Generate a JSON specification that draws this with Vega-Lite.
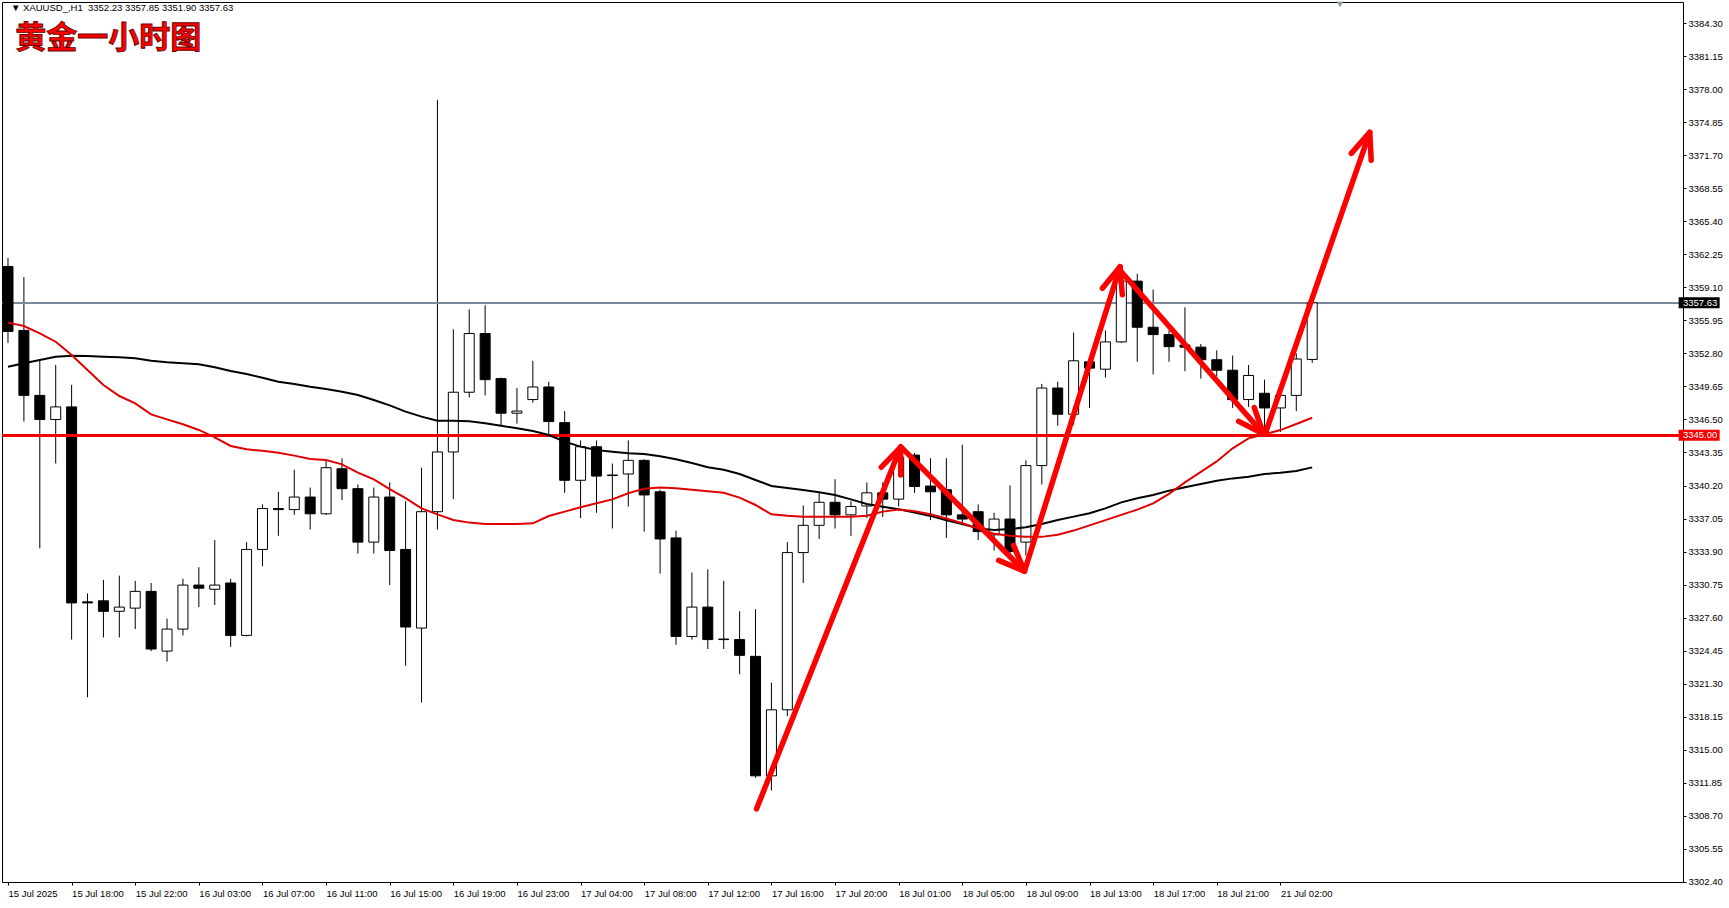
{
  "$schema": "https://vega.github.io/schema/vega-lite/v6.json",
  "width": 1681,
  "height": 880,
  "autosize": {"type": "none"},
  "padding": {"left": 2, "top": 2, "right": 46, "bottom": 26},
  "background": "white",
  "config": {
    "view": {"stroke": "#000000", "strokeWidth": 1},
    "font": "Liberation Sans",
    "axis": {"labelFont": "Liberation Sans", "labelFontSize": 9.5, "labelColor": "#000000", "tickColor": "#000000", "domain": false, "grid": false, "titleOpacity": 0, "labelOverlap": false}
  },
  "datasets": {
    "bars": [
      {"i":0,"t":"15 Jul 14:00","open":3361.1,"high":3361.9,"low":3353.8,"close":3354.9,"ma_red":3355.74,"ma_black":3351.54},
      {"i":1,"t":"15 Jul 15:00","open":3355.0,"high":3360.1,"low":3346.3,"close":3348.8,"ma_red":3355.42,"ma_black":3351.86},
      {"i":2,"t":"15 Jul 16:00","open":3348.8,"high":3352.2,"low":3334.2,"close":3346.5,"ma_red":3354.72,"ma_black":3352.18},
      {"i":3,"t":"15 Jul 17:00","open":3346.5,"high":3351.7,"low":3342.3,"close":3347.7,"ma_red":3353.92,"ma_black":3352.49},
      {"i":4,"t":"15 Jul 18:00","open":3347.7,"high":3349.8,"low":3325.5,"close":3329.0,"ma_red":3352.65,"ma_black":3352.59},
      {"i":5,"t":"15 Jul 19:00","open":3329.1,"high":3329.9,"low":3320.0,"close":3329.0,"ma_red":3351.22,"ma_black":3352.56},
      {"i":6,"t":"15 Jul 20:00","open":3329.2,"high":3331.2,"low":3325.7,"close":3328.2,"ma_red":3349.79,"ma_black":3352.49},
      {"i":7,"t":"15 Jul 21:00","open":3328.2,"high":3331.6,"low":3325.7,"close":3328.6,"ma_red":3348.74,"ma_black":3352.43},
      {"i":8,"t":"15 Jul 22:00","open":3328.5,"high":3331.1,"low":3326.5,"close":3330.1,"ma_red":3348.04,"ma_black":3352.34},
      {"i":9,"t":"15 Jul 23:00","open":3330.1,"high":3330.9,"low":3324.4,"close":3324.6,"ma_red":3346.99,"ma_black":3352.11},
      {"i":10,"t":"16 Jul 01:00","open":3324.4,"high":3327.5,"low":3323.4,"close":3326.5,"ma_red":3346.51,"ma_black":3351.95},
      {"i":11,"t":"16 Jul 02:00","open":3326.5,"high":3331.3,"low":3325.9,"close":3330.7,"ma_red":3346.04,"ma_black":3351.86},
      {"i":12,"t":"16 Jul 03:00","open":3330.7,"high":3332.4,"low":3328.6,"close":3330.4,"ma_red":3345.5,"ma_black":3351.76},
      {"i":13,"t":"16 Jul 04:00","open":3330.3,"high":3335.0,"low":3328.8,"close":3330.7,"ma_red":3344.8,"ma_black":3351.48},
      {"i":14,"t":"16 Jul 05:00","open":3330.9,"high":3331.3,"low":3324.8,"close":3325.9,"ma_red":3343.97,"ma_black":3351.13},
      {"i":15,"t":"16 Jul 06:00","open":3325.9,"high":3334.8,"low":3325.8,"close":3334.1,"ma_red":3343.65,"ma_black":3350.84},
      {"i":16,"t":"16 Jul 07:00","open":3334.1,"high":3338.4,"low":3332.5,"close":3338.0,"ma_red":3343.52,"ma_black":3350.49},
      {"i":17,"t":"16 Jul 08:00","open":3338.0,"high":3339.6,"low":3335.4,"close":3337.9,"ma_red":3343.33,"ma_black":3350.11},
      {"i":18,"t":"16 Jul 09:00","open":3337.9,"high":3341.7,"low":3337.4,"close":3339.1,"ma_red":3343.05,"ma_black":3349.89},
      {"i":19,"t":"16 Jul 10:00","open":3339.1,"high":3340.0,"low":3336.0,"close":3337.5,"ma_red":3342.73,"ma_black":3349.63},
      {"i":20,"t":"16 Jul 11:00","open":3337.5,"high":3342.6,"low":3337.4,"close":3341.9,"ma_red":3342.63,"ma_black":3349.41},
      {"i":21,"t":"16 Jul 12:00","open":3341.8,"high":3342.8,"low":3338.8,"close":3339.9,"ma_red":3342.22,"ma_black":3349.15},
      {"i":22,"t":"16 Jul 13:00","open":3339.9,"high":3340.3,"low":3333.7,"close":3334.8,"ma_red":3341.43,"ma_black":3348.84},
      {"i":23,"t":"16 Jul 14:00","open":3334.8,"high":3340.0,"low":3333.7,"close":3339.1,"ma_red":3340.79,"ma_black":3348.36},
      {"i":24,"t":"16 Jul 15:00","open":3339.1,"high":3340.5,"low":3330.7,"close":3334.0,"ma_red":3339.85,"ma_black":3347.85},
      {"i":25,"t":"16 Jul 16:00","open":3334.1,"high":3338.7,"low":3323.0,"close":3326.7,"ma_red":3339.0,"ma_black":3347.25},
      {"i":26,"t":"16 Jul 17:00","open":3326.6,"high":3341.9,"low":3319.5,"close":3337.7,"ma_red":3338.02,"ma_black":3346.77},
      {"i":27,"t":"16 Jul 18:00","open":3337.7,"high":3377.0,"low":3336.0,"close":3343.4,"ma_red":3337.45,"ma_black":3346.39},
      {"i":28,"t":"16 Jul 19:00","open":3343.4,"high":3355.1,"low":3338.9,"close":3349.1,"ma_red":3336.91,"ma_black":3346.39},
      {"i":29,"t":"16 Jul 20:00","open":3349.1,"high":3357.0,"low":3348.6,"close":3354.7,"ma_red":3336.66,"ma_black":3346.33},
      {"i":30,"t":"16 Jul 21:00","open":3354.7,"high":3357.4,"low":3348.8,"close":3350.3,"ma_red":3336.53,"ma_black":3346.14},
      {"i":31,"t":"16 Jul 22:00","open":3350.4,"high":3350.5,"low":3345.9,"close":3347.1,"ma_red":3336.53,"ma_black":3345.91},
      {"i":32,"t":"16 Jul 23:00","open":3347.1,"high":3349.5,"low":3346.1,"close":3347.3,"ma_red":3336.53,"ma_black":3345.66},
      {"i":33,"t":"17 Jul 01:00","open":3348.4,"high":3352.1,"low":3348.1,"close":3349.6,"ma_red":3336.59,"ma_black":3345.4},
      {"i":34,"t":"17 Jul 02:00","open":3349.6,"high":3350.1,"low":3345.0,"close":3346.3,"ma_red":3337.29,"ma_black":3345.02},
      {"i":35,"t":"17 Jul 03:00","open":3346.2,"high":3347.3,"low":3339.5,"close":3340.7,"ma_red":3337.71,"ma_black":3344.39},
      {"i":36,"t":"17 Jul 04:00","open":3340.7,"high":3344.5,"low":3337.1,"close":3343.9,"ma_red":3338.12,"ma_black":3343.91},
      {"i":37,"t":"17 Jul 05:00","open":3343.9,"high":3344.5,"low":3337.6,"close":3341.1,"ma_red":3338.5,"ma_black":3343.59},
      {"i":38,"t":"17 Jul 06:00","open":3341.2,"high":3342.3,"low":3336.1,"close":3341.15,"ma_red":3338.88,"ma_black":3343.43},
      {"i":39,"t":"17 Jul 07:00","open":3341.3,"high":3344.5,"low":3338.2,"close":3342.6,"ma_red":3339.46,"ma_black":3343.27},
      {"i":40,"t":"17 Jul 08:00","open":3342.6,"high":3342.7,"low":3335.8,"close":3339.3,"ma_red":3339.9,"ma_black":3343.21},
      {"i":41,"t":"17 Jul 09:00","open":3339.6,"high":3339.8,"low":3331.8,"close":3335.1,"ma_red":3340.0,"ma_black":3343.0},
      {"i":42,"t":"17 Jul 10:00","open":3335.2,"high":3335.9,"low":3325.0,"close":3325.8,"ma_red":3339.93,"ma_black":3342.7},
      {"i":43,"t":"17 Jul 11:00","open":3325.8,"high":3331.9,"low":3325.5,"close":3328.6,"ma_red":3339.8,"ma_black":3342.35},
      {"i":44,"t":"17 Jul 12:00","open":3328.6,"high":3332.2,"low":3324.6,"close":3325.5,"ma_red":3339.65,"ma_black":3341.95},
      {"i":45,"t":"17 Jul 13:00","open":3325.55,"high":3331.1,"low":3324.6,"close":3325.5,"ma_red":3339.5,"ma_black":3341.7},
      {"i":46,"t":"17 Jul 14:00","open":3325.5,"high":3328.2,"low":3322.2,"close":3324.0,"ma_red":3339.05,"ma_black":3341.3},
      {"i":47,"t":"17 Jul 15:00","open":3323.9,"high":3328.4,"low":3312.3,"close":3312.5,"ma_red":3338.34,"ma_black":3340.73},
      {"i":48,"t":"17 Jul 16:00","open":3312.5,"high":3321.4,"low":3311.1,"close":3318.8,"ma_red":3337.45,"ma_black":3340.16},
      {"i":49,"t":"17 Jul 17:00","open":3318.8,"high":3334.8,"low":3318.2,"close":3333.8,"ma_red":3337.32,"ma_black":3339.96},
      {"i":50,"t":"17 Jul 18:00","open":3333.8,"high":3338.3,"low":3330.9,"close":3336.4,"ma_red":3337.23,"ma_black":3339.77},
      {"i":51,"t":"17 Jul 19:00","open":3336.4,"high":3339.6,"low":3335.1,"close":3338.6,"ma_red":3337.23,"ma_black":3339.55},
      {"i":52,"t":"17 Jul 20:00","open":3338.6,"high":3340.8,"low":3336.1,"close":3337.4,"ma_red":3337.23,"ma_black":3339.3},
      {"i":53,"t":"17 Jul 21:00","open":3337.4,"high":3338.7,"low":3335.4,"close":3338.2,"ma_red":3337.23,"ma_black":3338.88},
      {"i":54,"t":"17 Jul 22:00","open":3338.25,"high":3340.5,"low":3337.1,"close":3339.5,"ma_red":3337.32,"ma_black":3338.44},
      {"i":55,"t":"17 Jul 23:00","open":3339.5,"high":3340.5,"low":3337.2,"close":3338.9,"ma_red":3337.71,"ma_black":3338.18},
      {"i":56,"t":"18 Jul 01:00","open":3338.9,"high":3343.4,"low":3338.2,"close":3342.9,"ma_red":3337.9,"ma_black":3337.93},
      {"i":57,"t":"18 Jul 02:00","open":3343.1,"high":3343.3,"low":3339.5,"close":3340.1,"ma_red":3337.75,"ma_black":3337.62},
      {"i":58,"t":"18 Jul 03:00","open":3340.15,"high":3342.8,"low":3336.9,"close":3339.6,"ma_red":3337.45,"ma_black":3337.3},
      {"i":59,"t":"18 Jul 04:00","open":3339.8,"high":3342.8,"low":3335.2,"close":3337.4,"ma_red":3337.05,"ma_black":3336.88},
      {"i":60,"t":"18 Jul 05:00","open":3337.4,"high":3344.1,"low":3336.4,"close":3337.0,"ma_red":3336.6,"ma_black":3336.53},
      {"i":61,"t":"18 Jul 06:00","open":3337.7,"high":3338.4,"low":3335.0,"close":3335.8,"ma_red":3336.1,"ma_black":3336.11},
      {"i":62,"t":"18 Jul 07:00","open":3335.5,"high":3337.6,"low":3334.0,"close":3337.0,"ma_red":3335.6,"ma_black":3335.95},
      {"i":63,"t":"18 Jul 08:00","open":3337.0,"high":3340.2,"low":3333.3,"close":3333.9,"ma_red":3335.4,"ma_black":3336.05},
      {"i":64,"t":"18 Jul 09:00","open":3334.8,"high":3342.6,"low":3333.5,"close":3342.1,"ma_red":3335.3,"ma_black":3336.21},
      {"i":65,"t":"18 Jul 10:00","open":3342.1,"high":3349.9,"low":3340.3,"close":3349.5,"ma_red":3335.3,"ma_black":3336.53},
      {"i":66,"t":"18 Jul 11:00","open":3349.5,"high":3350.1,"low":3345.9,"close":3347.0,"ma_red":3335.5,"ma_black":3336.91},
      {"i":67,"t":"18 Jul 12:00","open":3347.0,"high":3354.8,"low":3346.0,"close":3352.1,"ma_red":3335.9,"ma_black":3337.23},
      {"i":68,"t":"18 Jul 13:00","open":3352.0,"high":3352.4,"low":3347.6,"close":3351.4,"ma_red":3336.4,"ma_black":3337.55},
      {"i":69,"t":"18 Jul 14:00","open":3351.3,"high":3355.0,"low":3350.5,"close":3353.9,"ma_red":3336.9,"ma_black":3338.02},
      {"i":70,"t":"18 Jul 15:00","open":3353.9,"high":3360.0,"low":3353.8,"close":3359.7,"ma_red":3337.4,"ma_black":3338.59},
      {"i":71,"t":"18 Jul 16:00","open":3359.7,"high":3360.4,"low":3352.0,"close":3355.3,"ma_red":3337.9,"ma_black":3338.98},
      {"i":72,"t":"18 Jul 17:00","open":3355.3,"high":3358.9,"low":3350.8,"close":3354.6,"ma_red":3338.5,"ma_black":3339.29},
      {"i":73,"t":"18 Jul 18:00","open":3354.6,"high":3355.0,"low":3352.0,"close":3353.45,"ma_red":3339.4,"ma_black":3339.71},
      {"i":74,"t":"18 Jul 19:00","open":3353.6,"high":3357.2,"low":3351.1,"close":3353.4,"ma_red":3340.5,"ma_black":3340.03},
      {"i":75,"t":"18 Jul 20:00","open":3353.4,"high":3353.7,"low":3350.4,"close":3352.2,"ma_red":3341.5,"ma_black":3340.34},
      {"i":76,"t":"18 Jul 21:00","open":3352.2,"high":3353.1,"low":3350.6,"close":3351.2,"ma_red":3342.5,"ma_black":3340.66},
      {"i":77,"t":"18 Jul 22:00","open":3351.2,"high":3352.6,"low":3347.6,"close":3348.4,"ma_red":3343.75,"ma_black":3340.88},
      {"i":78,"t":"18 Jul 23:00","open":3348.4,"high":3351.7,"low":3347.7,"close":3350.7,"ma_red":3344.7,"ma_black":3341.04},
      {"i":79,"t":"21 Jul 01:00","open":3349.0,"high":3350.3,"low":3344.9,"close":3347.6,"ma_red":3345.08,"ma_black":3341.3},
      {"i":80,"t":"21 Jul 02:00","open":3347.6,"high":3348.9,"low":3345.3,"close":3348.8,"ma_red":3345.49,"ma_black":3341.42},
      {"i":81,"t":"21 Jul 03:00","open":3348.8,"high":3352.8,"low":3347.3,"close":3352.27,"ma_red":3346.07,"ma_black":3341.58},
      {"i":82,"t":"21 Jul 04:00","open":3352.23,"high":3357.85,"low":3351.9,"close":3357.63,"ma_red":3346.67,"ma_black":3341.93}
    ],
    "arrows": [
      {"seg":"a1","ord":1,"i":47.06,"p":3309.34},{"seg":"a1","ord":2,"i":56.125,"p":3343.87},
      {"seg":"h1","ord":1,"i":54.91,"p":3341.95},{"seg":"h1","ord":2,"i":56.125,"p":3343.87},{"seg":"h1","ord":3,"i":56.13,"p":3341.2},
      {"seg":"a2","ord":1,"i":56.125,"p":3343.91},{"seg":"a2","ord":2,"i":63.91,"p":3332.02},
      {"seg":"h2","ord":1,"i":63.225,"p":3334.49},{"seg":"h2","ord":2,"i":63.91,"p":3332.02},{"seg":"h2","ord":3,"i":62.29,"p":3333.06},
      {"seg":"a3","ord":1,"i":63.91,"p":3332.02},{"seg":"a3","ord":2,"i":69.92,"p":3361.08},
      {"seg":"h3","ord":1,"i":68.81,"p":3359.02},{"seg":"h3","ord":2,"i":69.92,"p":3361.08},{"seg":"h3","ord":3,"i":70.06,"p":3358.41},
      {"seg":"a4","ord":1,"i":69.9,"p":3360.76},{"seg":"a4","ord":2,"i":78.94,"p":3345.11},
      {"seg":"h4","ord":1,"i":78.36,"p":3347.63},{"seg":"h4","ord":2,"i":78.94,"p":3345.11},{"seg":"h4","ord":3,"i":77.38,"p":3346.32},
      {"seg":"a5","ord":1,"i":79.06,"p":3345.21},{"seg":"a5","ord":2,"i":85.62,"p":3373.9},
      {"seg":"h5","ord":1,"i":84.46,"p":3371.89},{"seg":"h5","ord":2,"i":85.62,"p":3373.9},{"seg":"h5","ord":3,"i":85.71,"p":3371.24}
    ],
    "tags": [
      {"kind":"bid","p":3357.63},
      {"kind":"level","p":3345.0}
    ]
  },
  "layer": [
    {
      "data": {"name": "bars"},
      "mark": {"type": "rule", "color": "#000000", "strokeWidth": 1, "clip": true},
      "encoding": {
        "x": {"field": "i", "type": "quantitative", "title": null, "scale": {"domain": [-0.0625, 105], "nice": false, "zero": false},
          "axis": {"orient": "bottom", "title": null, "values": [0,4,8,12,16,20,24,28,32,36,40,44,48,52,56,60,64,68,72,76,80], "tickCount": 30,
            "labelExpr": "['15 Jul 2025','15 Jul 18:00','15 Jul 22:00','16 Jul 03:00','16 Jul 07:00','16 Jul 11:00','16 Jul 15:00','16 Jul 19:00','16 Jul 23:00','17 Jul 04:00','17 Jul 08:00','17 Jul 12:00','17 Jul 16:00','17 Jul 20:00','18 Jul 01:00','18 Jul 05:00','18 Jul 09:00','18 Jul 13:00','18 Jul 17:00','18 Jul 21:00','21 Jul 02:00'][round(datum.value/4)]",
            "labelAlign": "left", "labelBaseline": "top", "labelDx": -1, "labelPadding": 3, "tickSize": 3, "labelOverlap": false, "labelFlush": false, "labelBound": false}},
        "y": {"field": "low", "type": "quantitative", "title": null, "scale": {"domain": [3302.371, 3386.332], "nice": false, "zero": false},
          "axis": {"orient": "right", "title": null, "values": [3302.4,3305.55,3308.7,3311.85,3315,3318.15,3321.3,3324.45,3327.6,3330.75,3333.9,3337.05,3340.2,3343.35,3346.5,3349.65,3352.8,3355.95,3359.1,3362.25,3365.4,3368.55,3371.7,3374.85,3378,3381.15,3384.3], "tickCount": 40,
            "format": ".2f", "tickSize": 3, "labelPadding": 2, "labelOverlap": false, "labelFlush": false, "labelBaseline": "middle"}},
        "y2": {"field": "high"}
      }
    },
    {
      "data": {"name": "bars"},
      "mark": {"type": "rule", "color": "#7b8b9b", "strokeWidth": 1},
      "encoding": {
        "y": {"datum": 3357.63, "type": "quantitative", "title": null, "scale": {"domain": [3302.371, 3386.332], "nice": false, "zero": false}}
      }
    },
    {
      "data": {"name": "bars"},
      "mark": {"type": "bar", "width": 10, "stroke": "#000000", "strokeWidth": 1, "clip": true},
      "encoding": {
        "x": {"field": "i", "type": "quantitative", "title": null, "scale": {"domain": [-0.0625, 105], "nice": false, "zero": false}},
        "y": {"field": "open", "type": "quantitative", "title": null, "scale": {"domain": [3302.371, 3386.332], "nice": false, "zero": false}},
        "y2": {"field": "close"},
        "fill": {"condition": {"test": "datum.close > datum.open", "value": "#ffffff"}, "value": "#000000"}
      }
    },
    {
      "data": {"name": "bars"},
      "mark": {"type": "rule", "color": "#f00000", "strokeWidth": 2.5},
      "encoding": {
        "y": {"datum": 3345.0, "type": "quantitative", "title": null, "scale": {"domain": [3302.371, 3386.332], "nice": false, "zero": false}}
      }
    },
    {
      "data": {"name": "bars"},
      "mark": {"type": "line", "color": "#000000", "strokeWidth": 2, "clip": true},
      "encoding": {
        "x": {"field": "i", "type": "quantitative", "title": null, "scale": {"domain": [-0.0625, 105], "nice": false, "zero": false}},
        "y": {"field": "ma_black", "type": "quantitative", "title": null, "scale": {"domain": [3302.371, 3386.332], "nice": false, "zero": false}}
      }
    },
    {
      "data": {"name": "bars"},
      "mark": {"type": "line", "color": "#e00000", "strokeWidth": 2, "clip": true},
      "encoding": {
        "x": {"field": "i", "type": "quantitative", "title": null, "scale": {"domain": [-0.0625, 105], "nice": false, "zero": false}},
        "y": {"field": "ma_red", "type": "quantitative", "title": null, "scale": {"domain": [3302.371, 3386.332], "nice": false, "zero": false}}
      }
    },
    {
      "data": {"name": "arrows"},
      "mark": {"type": "line", "color": "#ff0000", "strokeWidth": 5.5, "strokeCap": "round", "strokeJoin": "round"},
      "encoding": {
        "x": {"field": "i", "type": "quantitative", "title": null, "scale": {"domain": [-0.0625, 105], "nice": false, "zero": false}},
        "y": {"field": "p", "type": "quantitative", "title": null, "scale": {"domain": [3302.371, 3386.332], "nice": false, "zero": false}},
        "detail": {"field": "seg", "type": "nominal"},
        "order": {"field": "ord", "type": "quantitative"}
      }
    },
    {
      "data": {"name": "tags"},
      "mark": {"type": "tick", "orient": "horizontal", "size": 41, "thickness": 11, "opacity": 1},
      "encoding": {
        "x": {"datum": 106.33, "type": "quantitative", "title": null, "scale": {"domain": [-0.0625, 105], "nice": false, "zero": false}},
        "y": {"field": "p", "type": "quantitative", "title": null, "scale": {"domain": [3302.371, 3386.332], "nice": false, "zero": false}},
        "color": {"field": "kind", "type": "nominal", "scale": {"domain": ["bid", "level"], "range": ["#000000", "#f00000"]}, "legend": null}
      }
    },
    {
      "data": {"name": "tags"},
      "mark": {"type": "text", "align": "left", "baseline": "middle", "font": "Liberation Sans", "fontSize": 9.5, "color": "#ffffff"},
      "encoding": {
        "x": {"datum": 105.31, "type": "quantitative", "title": null, "scale": {"domain": [-0.0625, 105], "nice": false, "zero": false}},
        "y": {"field": "p", "type": "quantitative", "title": null, "scale": {"domain": [3302.371, 3386.332], "nice": false, "zero": false}},
        "text": {"field": "p", "type": "quantitative", "format": ".2f"}
      }
    },
    {
      "data": {"values": [{"label": "▼ XAUUSD_,H1\u00a0\u00a03352.23 3357.85 3351.90 3357.63"}]},
      "mark": {"type": "text", "align": "left", "baseline": "middle", "font": "Liberation Sans, DejaVu Sans", "fontSize": 9.5, "color": "#000000"},
      "encoding": {
        "x": {"datum": 0.19, "type": "quantitative", "title": null, "scale": {"domain": [-0.0625, 105], "nice": false, "zero": false}},
        "y": {"datum": 3385.72, "type": "quantitative", "title": null, "scale": {"domain": [3302.371, 3386.332], "nice": false, "zero": false}},
        "text": {"field": "label", "type": "nominal"}
      }
    },
    {
      "data": {"values": [{"label": "黄金一小时图"}]},
      "mark": {"type": "text", "align": "left", "baseline": "middle", "font": "Noto Sans CJK SC", "fontSize": 31, "fontWeight": "bold", "color": "#ff0000", "stroke": "#6a0000", "strokeWidth": 0.9},
      "encoding": {
        "x": {"datum": 0.45, "type": "quantitative", "title": null, "scale": {"domain": [-0.0625, 105], "nice": false, "zero": false}},
        "y": {"datum": 3382.8, "type": "quantitative", "title": null, "scale": {"domain": [3302.371, 3386.332], "nice": false, "zero": false}},
        "text": {"field": "label", "type": "nominal"}
      }
    },
    {
      "data": {"values": [{"marker": "shift"}]},
      "mark": {"type": "point", "shape": "triangle-down", "filled": true, "size": 40, "color": "#8c9aa8", "opacity": 1},
      "encoding": {
        "x": {"datum": 83.75, "type": "quantitative", "title": null, "scale": {"domain": [-0.0625, 105], "nice": false, "zero": false}},
        "y": {"datum": 3386.1, "type": "quantitative", "title": null, "scale": {"domain": [3302.371, 3386.332], "nice": false, "zero": false}}
      }
    }
  ]
}
